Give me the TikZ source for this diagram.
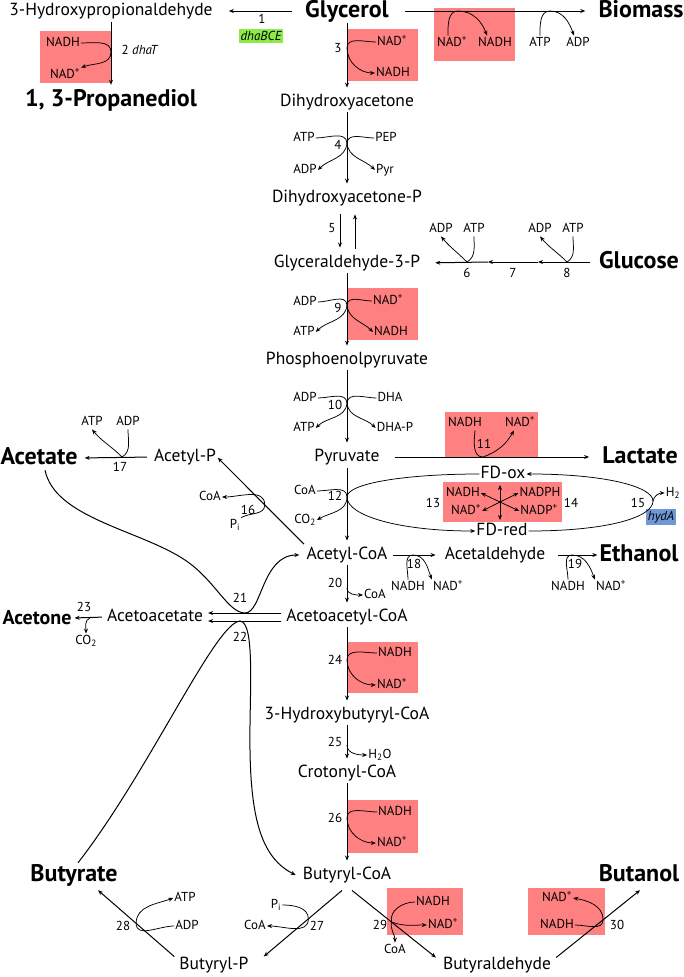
\documentclass[tikz,border=0pt]{standalone}
\usepackage{fontspec}
\setmainfont{PT Sans}
\usetikzlibrary{arrows.meta}
\definecolor{redoxRed}{RGB}{255,128,128}
\definecolor{geneGreen}{RGB}{140,235,70}
\definecolor{geneBlue}{RGB}{112,152,214}

\begin{document}
\begin{tikzpicture}[x=1pt, y=1pt, >={Stealth[length=5pt,width=4pt]},
            metNode/.style={inner sep=1pt, text height=12.5pt, text depth=4pt, font=\fontsize{17.5}{20}\selectfont},
            prodNode/.style={inner sep=1pt, text height=17pt, text depth=5pt, font=\fontsize{24}{26}\selectfont\bfseries},
            cofNode/.style={inner sep=1pt, text height=9.5pt, text depth=3pt, font=\fontsize{13}{15}\selectfont},
            numNode/.style={inner sep=1pt, font=\fontsize{13}{15}\selectfont},
            geneNode/.style={inner sep=2pt, font=\fontsize{13}{15}\selectfont\itshape},
            redBox/.style={fill=redoxRed},
            flux/.style={->, line width=1pt},
            side/.style={line width=0.75pt}]

            \useasboundingbox (0,0) rectangle (683,-977);

            \fill[redBox] (40,-31) rectangle (112,-83);
            \fill[redBox] (348,-29) rectangle (418,-81);
            \fill[redBox] (434,-8) rectangle (515,-61);
            \fill[redBox] (348,-288) rectangle (418,-340);
            \fill[redBox] (445,-412) rectangle (538,-457);
            \fill[redBox] (443,-482) rectangle (562,-522);
            \fill[redBox] (348,-642) rectangle (418,-693);
            \fill[redBox] (348,-800) rectangle (418,-853);
            \fill[redBox] (387,-888) rectangle (463,-935);
            \fill[redBox] (528,-888) rectangle (605,-935);

            \node[metNode] (hpa) at (111,-11) {3-Hydroxypropionaldehyde};
            \node[prodNode] (glycerol) at (347,-11) {Glycerol};
            \node[prodNode] (biomass) at (641,-11) {Biomass};
            \node[prodNode] (pdo) at (111,-100) {1, 3-Propanediol};
            \node[metNode] (dha) at (347,-102) {Dihydroxyacetone};
            \node[metNode] (dhap) at (347,-198) {Dihydroxyacetone-P};
            \node[metNode] (gap) at (347,-263) {Glyceraldehyde-3-P};
            \node[prodNode] (glucose) at (639,-262) {Glucose};
            \node[metNode] (pep) at (347,-360) {Phosphoenolpyruvate};
            \node[metNode] (pyr) at (347,-457) {Pyruvate};
            \node[prodNode] (lactate) at (640,-457) {Lactate};
            \node[metNode] (fdox) at (503,-474) {FD-ox};
            \node[metNode] (fdred) at (502,-531) {FD-red};
            \node[metNode] (acetylp) at (185,-457) {Acetyl-P};
            \node[prodNode] (acetate) at (39,-458) {Acetate};
            \node[metNode] (accoa) at (347,-555) {Acetyl-CoA};
            \node[metNode] (acald) at (495,-555) {Acetaldehyde};
            \node[prodNode] (ethanol) at (639,-555) {Ethanol};
            \node[metNode] (aacoa) at (347,-617) {Acetoacetyl-CoA};
            \node[metNode] (aac) at (155,-617) {Acetoacetate};
            \node[prodNode, font=\fontsize{20}{22}\selectfont\bfseries] (acetone) at (37,-618) {Acetone};
            \node[metNode] (hbcoa) at (347,-715) {3-Hydroxybutyryl-CoA};
            \node[metNode] (crcoa) at (347,-773) {Crotonyl-CoA};
            \node[metNode] (bcoa) at (347,-875) {Butyryl-CoA};
            \node[prodNode] (butyrate) at (74,-875) {Butyrate};
            \node[prodNode] (butanol) at (639,-875) {Butanol};
            \node[metNode] (bp) at (214,-965) {Butyryl-P};
            \node[metNode] (bald) at (497,-965) {Butyraldehyde};

            \node[numNode] (n1) at (262,-19) {1};
            \node[geneNode, fill=geneGreen] (dhabce) at (261,-36) {dhaBCE};
            \node[cofNode] (nadh2) at (63,-43) {NADH};
            \node[cofNode] (nad2) at (65,-75) {NAD\textsuperscript{+}};
            \node[numNode] (n2) at (140,-50) {2 \textit{dhaT}};
            \node[cofNode] (nad3) at (392,-42) {NAD\textsuperscript{+}};
            \node[cofNode] (nadh3) at (393,-73) {NADH};
            \node[numNode] (n3) at (338,-48) {3};
            \node[cofNode] (nadB) at (452,-43) {NAD\textsuperscript{+}};
            \node[cofNode] (nadhB) at (495,-43) {NADH};
            \node[cofNode] (atpB) at (540,-43) {ATP};
            \node[cofNode] (adpB) at (578,-43) {ADP};
            \node[cofNode] (atp4) at (304,-138) {ATP};
            \node[cofNode] (pep4) at (386,-138) {PEP};
            \node[cofNode] (adp4) at (305,-170) {ADP};
            \node[cofNode] (pyr4) at (385,-170) {Pyr};
            \node[numNode] (n4) at (338,-145) {4};
            \node[numNode] (n5) at (332,-228) {5};
            \node[cofNode] (adp6) at (441,-229) {ADP};
            \node[cofNode] (atp6) at (474,-229) {ATP};
            \node[cofNode] (adp8) at (540,-229) {ADP};
            \node[cofNode] (atp8) at (573,-229) {ATP};
            \node[numNode] (n6) at (467,-273) {6};
            \node[numNode] (n7) at (513,-273) {7};
            \node[numNode] (n8) at (567,-273) {8};
            \node[cofNode] (adp9) at (305,-302) {ADP};
            \node[cofNode] (nad9) at (388,-301) {NAD\textsuperscript{+}};
            \node[cofNode] (atp9) at (304,-332) {ATP};
            \node[cofNode] (nadh9) at (391,-332) {NADH};
            \node[numNode] (n9) at (338,-308) {9};
            \node[cofNode] (adp10) at (305,-398) {ADP};
            \node[cofNode] (dha10) at (390,-398) {DHA};
            \node[cofNode] (atp10) at (304,-428) {ATP};
            \node[cofNode] (dhap10) at (395,-428) {DHA-P};
            \node[numNode] (n10) at (335,-405) {10};
            \node[cofNode] (nadh11) at (465,-423) {NADH};
            \node[cofNode] (nad11) at (520,-423) {NAD\textsuperscript{+}};
            \node[numNode] (n11) at (484,-444) {11};
            \node[cofNode] (coa12) at (305,-491) {CoA};
            \node[cofNode] (co212) at (305,-520) {CO\textsubscript{2}};
            \node[numNode] (n12) at (335,-496) {12};
            \node[cofNode] (nadh13) at (463,-493) {NADH};
            \node[cofNode] (nad13) at (466,-511) {NAD\textsuperscript{+}};
            \node[cofNode] (nadph14) at (540,-493) {NADPH};
            \node[cofNode] (nadp14) at (539,-511) {NADP\textsuperscript{+}};
            \node[numNode] (n13) at (433,-503) {13};
            \node[numNode] (n14) at (571,-503) {14};
            \node[numNode] (n15) at (638,-503) {15};
            \node[cofNode] (h215) at (673,-493) {H\textsubscript{2}};
            \node[geneNode, fill=geneBlue] (hyda) at (661,-517) {hydA};
            \node[cofNode] (coa16) at (210,-497) {CoA};
            \node[cofNode] (pi16) at (235,-525) {P\textsubscript{i}};
            \node[numNode] (n16) at (248,-510) {16};
            \node[cofNode] (atp17) at (92,-422) {ATP};
            \node[cofNode] (adp17) at (128,-422) {ADP};
            \node[numNode] (n17) at (120,-467) {17};
            \node[cofNode] (nadh18) at (408,-587) {NADH};
            \node[cofNode] (nad18) at (448,-587) {NAD\textsuperscript{+}};
            \node[numNode] (n18) at (414,-564) {18};
            \node[cofNode] (nadh19) at (568,-587) {NADH};
            \node[cofNode] (nad19) at (611,-587) {NAD\textsuperscript{+}};
            \node[numNode] (n19) at (575,-564) {19};
            \node[numNode] (n20) at (335,-583) {20};
            \node[cofNode] (coa20) at (375,-595) {CoA};
            \node[numNode] (n21) at (240,-598) {21};
            \node[numNode] (n22) at (240,-637) {22};
            \node[numNode] (n23) at (84,-607) {23};
            \node[cofNode] (co223) at (86,-641) {CO\textsubscript{2}};
            \node[cofNode] (nadh24) at (395,-653) {NADH};
            \node[cofNode] (nad24) at (392,-685) {NAD\textsuperscript{+}};
            \node[numNode] (n24) at (335,-660) {24};
            \node[numNode] (n25) at (335,-742) {25};
            \node[cofNode] (h2o25) at (380,-755) {H\textsubscript{2}O};
            \node[cofNode] (nadh26) at (395,-812) {NADH};
            \node[cofNode] (nad26) at (392,-843) {NAD\textsuperscript{+}};
            \node[numNode] (n26) at (335,-818) {26};
            \node[cofNode] (pi27) at (276,-905) {P\textsubscript{i}};
            \node[cofNode] (coa27) at (255,-926) {CoA};
            \node[numNode] (n27) at (317,-926) {27};
            \node[cofNode] (atp28) at (185,-898) {ATP};
            \node[cofNode] (adp28) at (187,-926) {ADP};
            \node[numNode] (n28) at (123,-926) {28};
            \node[cofNode] (nadh29) at (433,-902) {NADH};
            \node[cofNode] (nad29) at (443,-925) {NAD\textsuperscript{+}};
            \node[cofNode] (coa29) at (395,-950) {CoA};
            \node[numNode] (n29) at (380,-925) {29};
            \node[cofNode] (nad30) at (557,-898) {NAD\textsuperscript{+}};
            \node[cofNode] (nadh30) at (557,-925) {NADH};
            \node[numNode] (n30) at (617,-925) {30};

            \coordinate (j2) at (111,-52);
            \coordinate (j3) at (347,-48);
            \coordinate (jB1) at (458,-11);
            \coordinate (jB2) at (550,-11);
            \coordinate (j4) at (347,-143);
            \coordinate (j6) at (467,-262);
            \coordinate (t7) at (488,-262);
            \coordinate (t8) at (538,-262);
            \coordinate (j8) at (567,-262);
            \coordinate (j9) at (347,-305);
            \coordinate (j10) at (347,-403);
            \coordinate (j11) at (483,-457);
            \coordinate (j12) at (347,-497);
            \coordinate (star) at (500,-502);
            \coordinate (j15) at (653,-501);
            \coordinate (j17) at (122,-457);
            \coordinate (j18) at (413,-555);
            \coordinate (j19) at (572,-555);
            \coordinate (j20) at (347,-588);
            \coordinate (j21) at (245,-613);
            \coordinate (j22) at (240,-621);
            \coordinate (j23) at (90,-618);
            \coordinate (j24) at (347,-660);
            \coordinate (j25) at (347,-745);
            \coordinate (j26) at (347,-818);

            \draw[flux, shorten <=12pt, shorten >=15pt] (glycerol.west) -- (hpa.east);
            \draw[flux, shorten <=15pt, shorten >=12pt] (glycerol.east) -- (biomass.west);
            \draw[side, ->] ([xshift=-4pt]nadB.north) to[out=90, in=180] (jB1) to[out=0, in=110] ([xshift=-8pt]nadhB.north);
            \draw[side, ->] (atpB.north) to[out=90, in=180] (jB2) to[out=0, in=110] ([xshift=-4pt]adpB.north);

            \draw[flux, shorten <=2pt, shorten >=3pt] (hpa.south) -- (pdo.north);
            \draw[side, ->] (nadh2.east) to[out=0, in=90] (j2) to[out=-90, in=20] (nad2.north east);

            \draw[flux, shorten >=5pt] (glycerol.south) -- (dha.north);
            \draw[side, ->] (nad3.west) to[out=180, in=90] (j3) to[out=-90, in=180] (nadh3.west);

            \draw[flux, shorten <=1pt, shorten >=5pt] (dha.south) -- (dhap.north);
            \draw[side] (atp4.east) to[out=0, in=95] (j4);
            \draw[side] (pep4.west) to[out=180, in=85] (j4);
            \draw[side, ->] (j4) to[out=-95, in=45] (adp4.east);
            \draw[side, ->] (j4) to[out=-85, in=135] (pyr4.west);

            \draw[flux, shorten <=7pt, shorten >=6pt] ([xshift=-7pt]dhap.south) -- ([xshift=-7pt]gap.north);
            \draw[flux, shorten <=5pt, shorten >=7pt] ([xshift=8pt]gap.north) -- ([xshift=8pt]dhap.south);

            \draw[flux, shorten <=8pt] (glucose.west) -- (t8);
            \draw[flux] (t8) -- (t7);
            \draw[flux, shorten >=14pt] (t7) -- (gap.east);
            \draw[side, ->] (atp8.south) to[out=-90, in=30] (j8) to[out=135, in=-50] (adp8.south);
            \draw[side, ->] (atp6.south) to[out=-90, in=30] (j6) to[out=135, in=-50] (adp6.south);

            \draw[flux, shorten <=1pt, shorten >=5pt] (gap.south) -- (pep.north);
            \draw[side] (adp9.east) to[out=0, in=95] (j9);
            \draw[side] (nad9.west) to[out=180, in=85] (j9);
            \draw[side, ->] (j9) to[out=-95, in=45] (atp9.east);
            \draw[side, ->] (j9) to[out=-85, in=135] (nadh9.west);

            \draw[flux, shorten <=1pt, shorten >=5pt] (pep.south) -- (pyr.north);
            \draw[side] (adp10.east) to[out=0, in=95] (j10);
            \draw[side] (dha10.west) to[out=180, in=85] (j10);
            \draw[side, ->] (j10) to[out=-95, in=45] (atp10.east);
            \draw[side, ->] (j10) to[out=-85, in=135] (dhap10.west);

            \draw[flux, shorten <=14pt, shorten >=12pt] (pyr.east) -- (lactate.west);
            \draw[side, ->] ([xshift=10pt]nadh11.south) to[out=-95, in=180] (j11) to[out=20, in=-120] ([xshift=-6pt]nad11.south);

            \draw[flux, shorten <=2pt, shorten >=5pt] (pyr.south) -- (accoa.north);
            \draw[side, ->] (coa12.east) to[out=0, in=90] (j12) to[out=-90, in=30] (co212.east);

            \draw[side, ->] (fdox.west) .. controls +(-72,0) and +(0,14) .. (j12) .. controls +(0,-19) and +(-75,0) .. (fdred.west);
            \draw[side, ->] (fdred.east) .. controls +(80,0) and +(0,-16) .. (j15) .. controls +(0,14) and +(80,0) .. (fdox.east);
            \draw[side, ->] (j15) to[out=80, in=180] (h215.west);
            \draw[side, ->] (star) -- +(0,17);
            \draw[side, ->] (star) -- +(0,-18);
            \draw[side, ->] (star) -- (nadh13.east);
            \draw[side, ->] (star) -- (nad13.east);
            \draw[side, ->] (star) -- (nadph14.west);
            \draw[side, ->] (star) -- (nadp14.west);

            \draw[flux, shorten <=2pt, shorten >=1pt] (accoa.north west) -- coordinate[pos=0.46] (j16) (acetylp.east);
            \draw[side, ->] (pi16.north east) to[out=30, in=-90] (j16) to[out=90, in=0] (coa16.east);

            \draw[flux, shorten <=6pt, shorten >=6pt] (acetylp.west) -- (acetate.east);
            \draw[side, ->] (adp17.south) to[out=-90, in=30] (j17) to[out=135, in=-50] (atp17.south);

            \draw[flux, shorten <=4pt, shorten >=8pt] (accoa.east) -- (acald.west);
            \draw[side, ->] (nadh18.north) to[out=90, in=180] (j18) to[out=0, in=110] (nad18.north west);
            \draw[flux, shorten <=12pt, shorten >=1pt] (acald.east) -- (ethanol.west);
            \draw[side, ->] (nadh19.north) to[out=90, in=180] (j19) to[out=0, in=110] (nad19.north west);

            \draw[flux, shorten <=1pt, shorten >=5pt] (accoa.south) -- (aacoa.north);
            \draw[side, ->] (j20) to[out=-90, in=180] (coa20.west);

            \draw[flux, shorten <=4pt, shorten >=4pt] ([yshift=4pt]aacoa.west) -- ([yshift=4pt]aac.east);
            \draw[flux, shorten <=4pt, shorten >=4pt] ([yshift=-4pt]aacoa.west) -- ([yshift=-4pt]aac.east);
            \draw[flux] ([xshift=6pt]acetate.south) .. controls +(10,-48) and (140,-530) .. (185,-560) .. controls (215,-580) and (228,-613) .. (j21) .. controls (262,-613) and (262,-555) .. ([xshift=-6pt]accoa.west);
            \draw[flux] ([xshift=4pt]butyrate.north) .. controls (150,-770) and (215,-623) .. (j22) .. controls (256,-622) and (249,-700) .. (250,-750) .. controls (251,-820) and (262,-858) .. ([xshift=-6pt]bcoa.west);

            \draw[flux, shorten <=4pt, shorten >=2pt] (aac.west) -- (acetone.east);
            \draw[side, ->] (j23) to[out=200, in=90] (co223.north);

            \draw[flux, shorten <=1pt, shorten >=5pt] (aacoa.south) -- (hbcoa.north);
            \draw[side, ->] (nadh24.west) to[out=180, in=90] (j24) to[out=-90, in=180] (nad24.west);
            \draw[flux, shorten <=1pt, shorten >=5pt] (hbcoa.south) -- (crcoa.north);
            \draw[side, ->] (j25) to[out=-90, in=180] (h2o25.west);
            \draw[flux, shorten <=1pt, shorten >=5pt] (crcoa.south) -- (bcoa.north);
            \draw[side, ->] (nadh26.west) to[out=180, in=90] (j26) to[out=-90, in=180] (nad26.west);

            \draw[flux] ([shift={(-5,-6)}]bcoa.south) -- coordinate[pos=0.43] (j27) ([shift={(14,-1)}]bp.north east);
            \draw[side, ->] (pi27.east) to[out=0, in=90] (j27) to[out=-90, in=0] (coa27.east);
            \draw[flux] ([shift={(-4,-1)}]bp.north west) -- coordinate[pos=0.5] (j28) ([shift={(24,-3)}]butyrate.south);
            \draw[side, ->] (adp28.west) to[out=180, in=-90] (j28) to[out=90, in=200] (atp28.west);
            \draw[flux] ([shift={(5,-6)}]bcoa.south) -- coordinate[pos=0.47] (j29) ([shift={(-6,-2)}]bald.north west);
            \draw[side, ->] (nadh29.west) to[out=180, in=100] (j29) to[out=-20, in=180] (nad29.west);
            \draw[side, ->] (j29) to[out=-100, in=90] (coa29.north);
            \draw[flux] ([shift={(4,-2)}]bald.north east) -- coordinate[pos=0.56] (j30) ([shift={(1,-3)}]butanol.south);
            \draw[side, ->] (nadh30.east) to[out=0, in=-90] (j30) to[out=90, in=-10] (nad30.east);
        \end{tikzpicture}
\end{document}
